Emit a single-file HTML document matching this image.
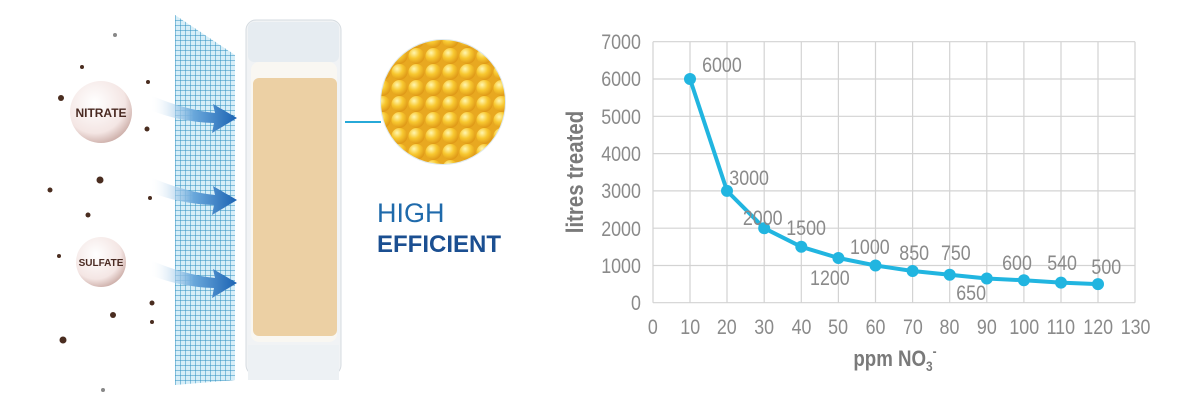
<!DOCTYPE html>
<html><head><meta charset="utf-8"><style>
html,body{margin:0;padding:0;background:#fff;}
svg{display:block;}
text{font-family:"Liberation Sans",sans-serif;}
</style></head><body>
<svg width="1200" height="400" viewBox="0 0 1200 400" xmlns="http://www.w3.org/2000/svg">
<defs>
<pattern id="mesh" width="5" height="5" patternUnits="userSpaceOnUse">
<rect width="5" height="5" fill="#d6eef8"/>
<path d="M0 0V5M0 0H5" stroke="#2c8fc0" stroke-width="1"/>
</pattern>
<radialGradient id="bub" cx="0.4" cy="0.35" r="0.7">
<stop offset="0" stop-color="#fff"/><stop offset="0.7" stop-color="#f4e6e4"/><stop offset="1" stop-color="#c9a9a3"/>
</radialGradient>
<radialGradient id="ball" cx="0.35" cy="0.3" r="0.7">
<stop offset="0" stop-color="#fff6b0"/><stop offset="0.5" stop-color="#f8c830"/><stop offset="1" stop-color="#e09a18"/>
</radialGradient>
<pattern id="balls" width="17" height="16" patternUnits="userSpaceOnUse">
<rect width="17" height="16" fill="#e8a820"/>
<circle cx="8.5" cy="8" r="8" fill="url(#ball)"/>
</pattern>
<linearGradient id="arr" x1="0" x2="1"><stop offset="0" stop-color="#fff" stop-opacity="0"/><stop offset="0.5" stop-color="#6aa8db"/><stop offset="1" stop-color="#1c63b3"/></linearGradient>
<clipPath id="cc"><circle cx="443" cy="102" r="62"/></clipPath>
</defs>
<polygon points="175,15 235,55 235,380 175,385" fill="url(#mesh)"/>
<g fill="url(#arr)">
<path d="M150,95 Q185,110 215,113 L213,104 L237,118 L212,133 L214,123 Q180,122 150,110 Z"/>
<path d="M150,177 Q185,192 215,195 L213,186 L237,200 L212,215 L214,205 Q180,204 150,192 Z"/>
<path d="M150,260 Q185,275 215,278 L213,269 L237,283 L212,298 L214,288 Q180,287 150,275 Z"/>
</g>
<rect x="246" y="20" width="95" height="355" rx="10" fill="#f1f3f5" stroke="#d5dbe0"/>
<rect x="248" y="22" width="91" height="40" rx="6" fill="#e6ecf1"/>
<rect x="251" y="62" width="86" height="280" rx="8" fill="#f9f7f2"/>
<rect x="253" y="78" width="84" height="258" rx="6" fill="#ecd0a4"/>
<rect x="248" y="345" width="91" height="35" fill="#edf1f4"/>
<line x1="345" y1="122" x2="381" y2="122" stroke="#27a9d8" stroke-width="2"/>
<circle cx="443" cy="102" r="63" fill="#dfe9ee"/>
<rect x="378" y="38" width="130" height="130" fill="url(#balls)" clip-path="url(#cc)"/>
<text x="377" y="222" font-size="27" fill="#1f6aab">HIGH</text>
<text x="377" y="252" font-size="24" font-weight="bold" fill="#1b4f91">EFFICIENT</text>
<circle cx="101" cy="112" r="31" fill="url(#bub)"/>
<text x="101" y="117" font-size="12" font-weight="bold" fill="#4a2a22" text-anchor="middle">NITRATE</text>
<circle cx="101" cy="262" r="25" fill="url(#bub)"/>
<text x="101" y="266" font-size="10" font-weight="bold" fill="#4a2a22" text-anchor="middle">SULFATE</text>
<g fill="#4a2d20">
<circle cx="61" cy="98" r="3"/><circle cx="147" cy="129" r="2.5"/><circle cx="100" cy="180" r="3.5"/><circle cx="50" cy="190" r="2.5"/>
<circle cx="88" cy="215" r="2.5"/><circle cx="150" cy="198" r="2"/><circle cx="63" cy="340" r="3.5"/><circle cx="152" cy="303" r="2.5"/>
<circle cx="113" cy="315" r="3"/><circle cx="82" cy="67" r="2"/><circle cx="148" cy="82" r="2"/><circle cx="59" cy="256" r="2"/>
<circle cx="152" cy="322" r="2"/><circle cx="103" cy="390" r="2" fill="#888"/><circle cx="115" cy="35" r="2" fill="#888"/>
</g>
<g stroke="#d3d3d3" stroke-width="1.2">
<line x1="653" y1="41.7" x2="1135" y2="41.7"/><line x1="653" y1="79" x2="1135" y2="79"/>
<line x1="653" y1="116.3" x2="1135" y2="116.3"/><line x1="653" y1="153.6" x2="1135" y2="153.6"/>
<line x1="653" y1="190.9" x2="1135" y2="190.9"/><line x1="653" y1="228.2" x2="1135" y2="228.2"/>
<line x1="653" y1="265.5" x2="1135" y2="265.5"/><line x1="653" y1="302.7" x2="1135" y2="302.7"/>
<line x1="653" y1="41.7" x2="653" y2="302.7"/><line x1="690" y1="41.7" x2="690" y2="302.7"/>
<line x1="727" y1="41.7" x2="727" y2="302.7"/><line x1="764.2" y1="41.7" x2="764.2" y2="302.7"/>
<line x1="801.3" y1="41.7" x2="801.3" y2="302.7"/><line x1="838.4" y1="41.7" x2="838.4" y2="302.7"/>
<line x1="875.5" y1="41.7" x2="875.5" y2="302.7"/><line x1="912.6" y1="41.7" x2="912.6" y2="302.7"/>
<line x1="949.7" y1="41.7" x2="949.7" y2="302.7"/><line x1="986.8" y1="41.7" x2="986.8" y2="302.7"/>
<line x1="1023.9" y1="41.7" x2="1023.9" y2="302.7"/><line x1="1061" y1="41.7" x2="1061" y2="302.7"/>
<line x1="1098" y1="41.7" x2="1098" y2="302.7"/><line x1="1135" y1="41.7" x2="1135" y2="302.7"/>
</g>
<g font-size="21" fill="#8a8a8a" text-anchor="end" transform="scale(0.85,1)">
<text x="754" y="49">7000</text><text x="754" y="86">6000</text><text x="754" y="124">5000</text><text x="754" y="161">4000</text>
<text x="754" y="198">3000</text><text x="754" y="236">2000</text><text x="754" y="273">1000</text><text x="754" y="310">0</text>
</g>
<g font-size="21" fill="#8a8a8a" text-anchor="middle" transform="scale(0.85,1)">
<text x="768" y="334">0</text><text x="812" y="334">10</text><text x="855" y="334">20</text><text x="899" y="334">30</text>
<text x="943" y="334">40</text><text x="986" y="334">50</text><text x="1030" y="334">60</text><text x="1074" y="334">70</text>
<text x="1117" y="334">80</text><text x="1161" y="334">90</text><text x="1205" y="334">100</text><text x="1248" y="334">110</text>
<text x="1292" y="334">120</text><text x="1336" y="334">130</text>
</g>
<text transform="translate(583,172) rotate(-90) scale(0.85,1)" font-size="24" font-weight="bold" fill="#7a7a7a" text-anchor="middle">litres treated</text>
<text transform="translate(895,366) scale(0.85,1)" font-size="22" font-weight="bold" fill="#7a7a7a" text-anchor="middle">ppm NO<tspan font-size="14" dy="5">3</tspan><tspan font-size="14" dy="-15">-</tspan></text>
<polyline fill="none" stroke="#21b5e0" stroke-width="4" stroke-linejoin="round" points="690,79 727,190.9 764.2,228.2 801.3,246.8 838.4,258 875.5,265.5 912.6,271 949.7,274.7 986.8,278.5 1023.9,280.3 1061,282.6 1098,284.1"/>
<g fill="#21b5e0">
<circle cx="690" cy="79" r="6"/><circle cx="727" cy="190.9" r="6"/><circle cx="764.2" cy="228.2" r="6"/><circle cx="801.3" cy="246.8" r="6"/>
<circle cx="838.4" cy="258" r="6"/><circle cx="875.5" cy="265.5" r="6"/><circle cx="912.6" cy="271" r="6"/><circle cx="949.7" cy="274.7" r="6"/>
<circle cx="986.8" cy="278.5" r="6"/><circle cx="1023.9" cy="280.3" r="6"/><circle cx="1061" cy="282.6" r="6"/><circle cx="1098" cy="284.1" r="6"/>
</g>
<g font-size="21" fill="#8a8a8a" transform="scale(0.85,1)">
<text x="826" y="72">6000</text><text x="858" y="185">3000</text><text x="874" y="225">2000</text><text x="925" y="235">1500</text>
<text x="953" y="285">1200</text><text x="1000" y="254">1000</text><text x="1058" y="260">850</text><text x="1107" y="260">750</text>
<text x="1125" y="300">650</text><text x="1179" y="270">600</text><text x="1232" y="270">540</text><text x="1284" y="274">500</text>
</g>
</svg>
</body></html>
